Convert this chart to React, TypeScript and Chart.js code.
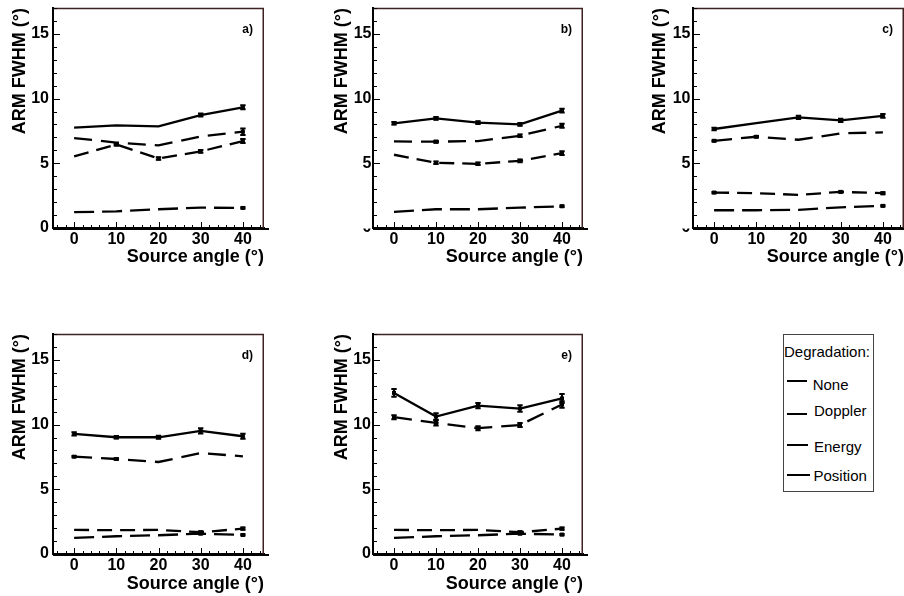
import React, { useEffect, useRef } from 'react';
import { Chart, registerables } from 'chart.js';

Chart.register(...registerables);

// ---------- data ----------
const ANGLES = [0, 10, 20, 30, 40];
const SERIES_NAMES = ['None', 'Doppler', 'Energy', 'Position'];
const LEGEND_TITLE = 'Degradation:';
const X_TITLE = 'Source angle (°)';
const Y_TITLE = 'ARM FWHM (°)';
const Y_TICKS = [0, 5, 10, 15];
const X_TICKS = [0, 10, 20, 30, 40];
const Y_RANGE = [0, 17];
const X_RANGE = [-5, 45];

// panel a)
const A_NONE = [1.22, 1.29, 1.45, 1.57, 1.55];
const A_NONE_ERR = [0, 0, 0, 0, 0.05];
const A_DOPPLER = [5.53, 6.45, 5.37, 5.92, 6.72];
const A_DOPPLER_ERR = [0, 0.08, 0.1, 0.1, 0.15];
const A_ENERGY = [6.95, 6.6, 6.38, 7.08, 7.44];
const A_ENERGY_ERR = [0, 0, 0, 0, 0.25];
const A_POSITION = [7.75, 7.93, 7.85, 8.73, 9.33];
const A_POSITION_ERR = [0, 0, 0, 0.12, 0.16];

// panel b)
const B_NONE = [1.24, 1.45, 1.45, 1.57, 1.68];
const B_NONE_ERR = [0, 0, 0, 0, 0.05];
const B_DOPPLER = [5.66, 5.04, 4.96, 5.19, 5.79];
const B_DOPPLER_ERR = [0, 0.1, 0.1, 0.1, 0.15];
const B_ENERGY = [6.69, 6.67, 6.72, 7.13, 7.9];
const B_ENERGY_ERR = [0, 0.08, 0, 0.1, 0.15];
const B_POSITION = [8.09, 8.47, 8.14, 8.01, 9.07];
const B_POSITION_ERR = [0.1, 0.1, 0.1, 0.1, 0.15];

// panel c)
const C_NONE = [1.37, 1.37, 1.4, 1.6, 1.71];
const C_NONE_ERR = [0, 0, 0, 0, 0.05];
const C_DOPPLER = [2.74, 2.69, 2.56, 2.79, 2.69];
const C_DOPPLER_ERR = [0.05, 0, 0, 0.05, 0.08];
const C_ENERGY = [6.74, 7.05, 6.82, 7.31, 7.39];
const C_ENERGY_ERR = [0.05, 0.05, 0, 0, 0];
const C_POSITION = [7.65, 8.11, 8.55, 8.32, 8.66];
const C_POSITION_ERR = [0.1, 0, 0.12, 0.12, 0.15];

// panel d)
const D_NONE = [1.24, 1.37, 1.45, 1.57, 1.47];
const D_NONE_ERR = [0, 0, 0, 0.05, 0.05];
const D_DOPPLER = [1.86, 1.84, 1.86, 1.68, 1.96];
const D_DOPPLER_ERR = [0, 0, 0, 0.08, 0.08];
const D_ENERGY = [7.52, 7.34, 7.11, 7.8, 7.55];
const D_ENERGY_ERR = [0.05, 0.05, 0, 0, 0];
const D_POSITION = [9.28, 9.02, 9.02, 9.51, 9.1];
const D_POSITION_ERR = [0.12, 0.1, 0.12, 0.2, 0.2];

// panel e)
const E_NONE = [1.24, 1.37, 1.45, 1.57, 1.5];
const E_NONE_ERR = [0, 0, 0, 0.05, 0.05];
const E_DOPPLER = [1.86, 1.84, 1.86, 1.68, 1.96];
const E_DOPPLER_ERR = [0, 0, 0, 0.08, 0.08];
const E_ENERGY = [10.57, 10.13, 9.72, 9.97, 11.55];
const E_ENERGY_ERR = [0.15, 0.2, 0.15, 0.15, 0.25];
const E_POSITION = [12.45, 10.62, 11.47, 11.24, 12.02];
const E_POSITION_ERR = [0.3, 0.25, 0.2, 0.25, 0.35];

// ---------- styles / layout ----------
const FONT = "'Liberation Sans', Arial, Helvetica, sans-serif";
const FRAME_COLOR = '#3e2222';
const DASHES = [[20, 8], [15, 8], [18, 9], []];
const Y_MINOR_STEP = 1;
const X_MINOR_STEP = 2;

type Geo = { x: number; y: number; w: number; h: number };
type Area = { L: number; T: number; R: number; B: number };

const PANELS = [
  {
    label: 'a)', canvas: { x: 0, y: 0, w: 300, h: 275 }, area: { L: 53, T: 8, R: 264, B: 228 },
    yTickPad: 4, yTitlePad: 9.2, xTitlePad: 6.7, clipZero: false,
    values: [A_NONE, A_DOPPLER, A_ENERGY, A_POSITION],
    errors: [A_NONE_ERR, A_DOPPLER_ERR, A_ENERGY_ERR, A_POSITION_ERR],
  },
  {
    label: 'b)', canvas: { x: 300, y: 0, w: 300, h: 275 }, area: { L: 373, T: 8, R: 583, B: 228 },
    yTickPad: 1.5, yTitlePad: 31.7, xTitlePad: 6.7, clipZero: true,
    values: [B_NONE, B_DOPPLER, B_ENERGY, B_POSITION],
    errors: [B_NONE_ERR, B_DOPPLER_ERR, B_ENERGY_ERR, B_POSITION_ERR],
  },
  {
    label: 'c)', canvas: { x: 600, y: 0, w: 304, h: 275 }, area: { L: 693, T: 8, R: 904, B: 228 },
    yTickPad: 2.5, yTitlePad: 49.7, xTitlePad: 6.7, clipZero: true,
    values: [C_NONE, C_DOPPLER, C_ENERGY, C_POSITION],
    errors: [C_NONE_ERR, C_DOPPLER_ERR, C_ENERGY_ERR, C_POSITION_ERR],
  },
  {
    label: 'd)', canvas: { x: 0, y: 300, w: 300, h: 296 }, area: { L: 53, T: 334, R: 264, B: 554 },
    yTickPad: 4, yTitlePad: 9.2, xTitlePad: 1.2, clipZero: false,
    values: [D_NONE, D_DOPPLER, D_ENERGY, D_POSITION],
    errors: [D_NONE_ERR, D_DOPPLER_ERR, D_ENERGY_ERR, D_POSITION_ERR],
  },
  {
    label: 'e)', canvas: { x: 300, y: 300, w: 300, h: 296 }, area: { L: 373, T: 334, R: 583, B: 554 },
    yTickPad: 2, yTitlePad: 31.7, xTitlePad: 1.2, clipZero: false,
    values: [E_NONE, E_DOPPLER, E_ENERGY, E_POSITION],
    errors: [E_NONE_ERR, E_DOPPLER_ERR, E_ENERGY_ERR, E_POSITION_ERR],
  },
];

// ---------- plugins ----------
const errorBarPlugin = {
  id: 'errorBars',
  afterDatasetsDraw(chart: any) {
    const { ctx, scales } = chart;
    const y = scales.y;
    ctx.save();
    ctx.strokeStyle = '#000';
    ctx.fillStyle = '#000';
    chart.data.datasets.forEach((ds: any, i: number) => {
      const meta = chart.getDatasetMeta(i);
      (ds.errors || []).forEach((e: number, j: number) => {
        if (!e) return;
        const pt = meta.data[j];
        const v = ds.data[j].y;
        const yTop = y.getPixelForValue(v + e);
        const yBot = y.getPixelForValue(v - e);
        ctx.lineWidth = 2;
        ctx.setLineDash([]);
        ctx.beginPath();
        ctx.moveTo(pt.x, yTop); ctx.lineTo(pt.x, yBot);
        ctx.moveTo(pt.x - 2.7, yTop); ctx.lineTo(pt.x + 2.7, yTop);
        ctx.moveTo(pt.x - 2.7, yBot); ctx.lineTo(pt.x + 2.7, yBot);
        ctx.stroke();
        ctx.fillRect(pt.x - 2, pt.y - 2, 4, 4);
      });
    });
    ctx.restore();
  },
};

const framePlugin = {
  id: 'rootFrame',
  afterDraw(chart: any, _args: any, opts: any) {
    const { ctx, chartArea, scales } = chart;
    const { left, top, right, bottom } = chartArea;
    const x = scales.x;
    const y = scales.y;
    ctx.save();
    ctx.setLineDash([]);
    // top/right frame
    ctx.strokeStyle = FRAME_COLOR;
    ctx.lineWidth = 1.5;
    ctx.beginPath();
    ctx.moveTo(left, top + 0.5);
    ctx.lineTo(right - 0.75, top + 0.5);
    ctx.lineTo(right - 0.75, bottom);
    ctx.stroke();
    // x axis overhang
    ctx.strokeStyle = '#000';
    ctx.lineWidth = 2;
    ctx.beginPath();
    ctx.moveTo(left, bottom + 1);
    ctx.lineTo(right + 5, bottom + 1);
    ctx.stroke();
    // inner ticks
    ctx.lineWidth = 1;
    ctx.beginPath();
    for (let v = Y_RANGE[0]; v <= Y_RANGE[1]; v += Y_MINOR_STEP) {
      const py = Math.round(y.getPixelForValue(v)) + 0.5;
      const len = v % 5 === 0 ? 6 : 3;
      ctx.moveTo(left, py); ctx.lineTo(left + 1 + len, py);
    }
    for (let v = X_RANGE[0] + 1; v < X_RANGE[1]; v += X_MINOR_STEP) {
      const px = Math.round(x.getPixelForValue(v)) + 0.5;
      const len = v % 10 === 0 ? 6 : 3;
      ctx.moveTo(px, bottom); ctx.lineTo(px, bottom - len);
    }
    ctx.stroke();
    // panel label
    ctx.fillStyle = '#000';
    ctx.font = `bold 12px ${FONT}`;
    ctx.textAlign = 'right';
    ctx.textBaseline = 'middle';
    ctx.fillText(opts.label, right - 11, top + 22);
    // partially hidden "0" label
    if (opts.clipZero) {
      const y0 = y.getPixelForValue(0);
      ctx.fillStyle = '#fff';
      ctx.fillRect(left - 22, y0 - 9, 20, 9.5);
    }
    ctx.restore();
  },
};

function makeConfig(p: any): any {
  const c: Geo = p.canvas;
  const a: Area = p.area;
  const tickFont = { family: FONT, size: 16, weight: 'bold' as const };
  const titleFont = { family: FONT, size: 18, weight: 'bold' as const };
  return {
    type: 'line',
    data: {
      datasets: p.values.map((vals: number[], i: number) => ({
        label: SERIES_NAMES[i],
        data: ANGLES.map((ang, j) => ({ x: ang, y: vals[j] })),
        errors: p.errors[i],
        borderColor: '#000',
        borderWidth: 2.3,
        borderDash: DASHES[i],
        pointRadius: 0,
        fill: false,
        tension: 0,
      })),
    },
    options: {
      animation: false,
      responsive: false,
      maintainAspectRatio: false,
      events: [],
      layout: {
        autoPadding: false,
        padding: { left: 0, top: a.T - c.y, right: c.x + c.w - a.R, bottom: 0 },
      },
      plugins: {
        legend: { display: false },
        tooltip: { enabled: false },
        rootFrame: { label: p.label, clipZero: p.clipZero },
      },
      scales: {
        x: {
          type: 'linear',
          min: X_RANGE[0],
          max: X_RANGE[1],
          afterBuildTicks: (s: any) => { s.ticks = X_TICKS.map((v) => ({ value: v })); },
          afterFit: (s: any) => { s.height = c.y + c.h - a.B; s.paddingLeft = 0; s.paddingRight = 0; },
          grid: { display: false, drawTicks: false },
          border: { display: true, color: '#000', width: 2 },
          ticks: { font: tickFont, color: '#000', padding: 1.5, autoSkip: false, maxRotation: 0, callback: (v: any) => String(v) },
          title: { display: true, text: X_TITLE, align: 'end', font: titleFont, color: '#000', padding: { top: 0, bottom: p.xTitlePad } },
        },
        y: {
          type: 'linear',
          min: Y_RANGE[0],
          max: Y_RANGE[1],
          afterBuildTicks: (s: any) => { s.ticks = Y_TICKS.map((v) => ({ value: v })); },
          afterFit: (s: any) => { s.width = a.L - c.x; s.paddingTop = 0; s.paddingBottom = 0; },
          grid: { display: false, drawTicks: false },
          border: { display: true, color: '#000', width: 2 },
          ticks: { font: tickFont, color: '#000', padding: p.yTickPad, autoSkip: false, callback: (v: any) => String(v) },
          title: { display: true, text: Y_TITLE, align: 'end', font: titleFont, color: '#000', padding: { top: p.yTitlePad, bottom: 0 } },
        },
      },
    },
    plugins: [errorBarPlugin, framePlugin],
  };
}

function Panel({ p }: { p: any }) {
  const ref = useRef<HTMLCanvasElement | null>(null);
  useEffect(() => {
    if (!ref.current) return;
    const chart = new Chart(ref.current, makeConfig(p));
    return () => chart.destroy();
  }, [p]);
  const c: Geo = p.canvas;
  return (
    <canvas
      ref={ref}
      width={c.w}
      height={c.h}
      style={{ position: 'absolute', left: c.x, top: c.y, width: c.w, height: c.h }}
    />
  );
}

const LEGEND_BOX = { x: 783, y: 334, w: 91, h: 158 };
const LEGEND_ROWS = [
  { lineY: 381, lineX2: 807, lineW: 2.5, textY: 384.3, textX: 812.7 },
  { lineY: 414, lineX2: 807, lineW: 2.2, textY: 410.5, textX: 814 },
  { lineY: 445, lineX2: 808, lineW: 2.2, textY: 446, textX: 814 },
  { lineY: 475, lineX2: 810, lineW: 2.2, textY: 475.7, textX: 813.5 },
];

function Legend() {
  const textStyle = (x: number, cy: number): React.CSSProperties => ({
    position: 'absolute', left: x, top: cy - 8.3, height: 17, lineHeight: '17px',
    fontFamily: FONT, fontSize: 15, color: '#000', whiteSpace: 'nowrap',
  });
  return (
    <>
      <div style={{
        position: 'absolute', left: LEGEND_BOX.x, top: LEGEND_BOX.y, width: LEGEND_BOX.w, height: LEGEND_BOX.h,
        border: '1px solid #444', boxSizing: 'border-box', background: '#fff',
      }} />
      <div style={textStyle(LEGEND_BOX.x + 1, 351.7)}>{LEGEND_TITLE}</div>
      {SERIES_NAMES.map((name, i) => {
        const r = LEGEND_ROWS[i];
        return (
          <React.Fragment key={name}>
            <div style={{ position: 'absolute', left: 786.5, top: r.lineY - r.lineW / 2, width: r.lineX2 - 786.5, height: r.lineW, background: '#000' }} />
            <div style={textStyle(r.textX, r.textY)}>{name}</div>
          </React.Fragment>
        );
      })}
    </>
  );
}

export default function App() {
  return (
    <div style={{ position: 'absolute', left: 0, top: 0, width: 904, height: 596, overflow: 'hidden', background: '#fff' }}>
      {PANELS.map((p) => <Panel key={p.label} p={p} />)}
      <Legend />
    </div>
  );
}
